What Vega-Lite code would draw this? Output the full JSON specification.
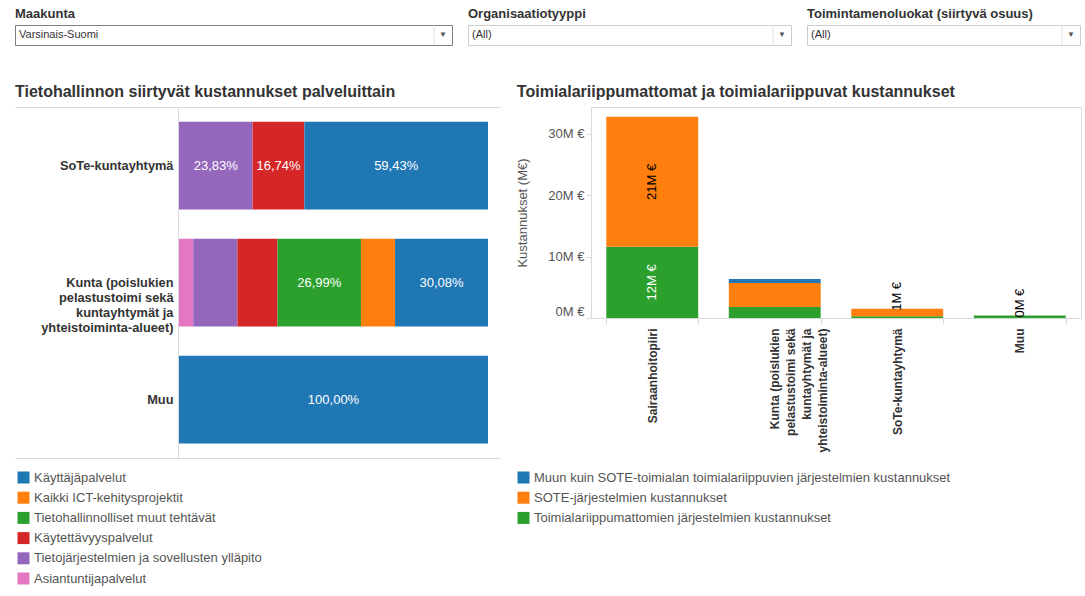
{
  "$schema": "https://vega.github.io/schema/vega-lite/v6.json",
  "background": "white",
  "padding": {"left": 14, "top": 7, "right": 5, "bottom": 0},
  "config": {
    "font": "Liberation Sans",
    "locale": {"number": {"decimal": ",", "thousands": "\u00a0", "grouping": [3], "currency": ["", "M\u00a0€"]}},
    "view": {"stroke": null},
    "title": {"font": "Liberation Sans", "fontWeight": "bold", "color": "#333333", "anchor": "start", "frame": "bounds"},
    "axis": {"labelFont": "Liberation Sans", "titleFont": "Liberation Sans"},
    "legend": {"labelFont": "Liberation Sans", "labelFontSize": 13, "labelColor": "#555555", "symbolType": "square", "symbolSize": 144, "symbolStrokeWidth": 0, "rowPadding": 6.2, "labelOffset": 4, "labelLimit": 600}
  },
  "resolve": {"scale": {"x": "independent", "y": "independent", "color": "independent"}, "legend": {"color": "independent"}},
  "spacing": 37,
  "vconcat": [
    {
      "spacing": 14,
      "resolve": {"scale": {"x": "independent", "y": "independent"}},
      "hconcat": [
        {
          "width": 437, "height": 20,
          "title": {"text": "Maakunta", "fontSize": 13, "offset": 4},
          "view": {"stroke": "#7f7f7f"},
          "data": {"values": [{"selected": "Varsinais-Suomi"}]},
          "layer": [
            {"mark": {"type": "text", "align": "left", "dx": 4, "fontSize": 11, "color": "#333333"},
             "encoding": {"x": {"datum": 0, "type": "quantitative", "scale": {"domain": [0, 1]}, "axis": null}, "text": {"field": "selected"}}},
            {"mark": {"type": "text", "align": "center", "dx": -9, "fontSize": 8, "color": "#555555", "text": "▼"},
             "encoding": {"x": {"datum": 1, "type": "quantitative"}}},
            {"mark": {"type": "rule", "color": "#e0e0e0", "xOffset": -18},
             "encoding": {"x": {"datum": 1, "type": "quantitative"}}}
          ]
        },
        {
          "width": 323, "height": 20,
          "title": {"text": "Organisaatiotyyppi", "fontSize": 13, "offset": 4},
          "view": {"stroke": "#cccccc"},
          "data": {"values": [{"selected": "(All)"}]},
          "layer": [
            {"mark": {"type": "text", "align": "left", "dx": 4, "fontSize": 11, "color": "#333333"},
             "encoding": {"x": {"datum": 0, "type": "quantitative", "scale": {"domain": [0, 1]}, "axis": null}, "text": {"field": "selected"}}},
            {"mark": {"type": "text", "align": "center", "dx": -9, "fontSize": 8, "color": "#555555", "text": "▼"},
             "encoding": {"x": {"datum": 1, "type": "quantitative"}}},
            {"mark": {"type": "rule", "color": "#e0e0e0", "xOffset": -18},
             "encoding": {"x": {"datum": 1, "type": "quantitative"}}}
          ]
        },
        {
          "width": 273, "height": 20,
          "title": {"text": "Toimintamenoluokat (siirtyvä osuus)", "fontSize": 13, "offset": 4},
          "view": {"stroke": "#cccccc"},
          "data": {"values": [{"selected": "(All)"}]},
          "layer": [
            {"mark": {"type": "text", "align": "left", "dx": 4, "fontSize": 11, "color": "#333333"},
             "encoding": {"x": {"datum": 0, "type": "quantitative", "scale": {"domain": [0, 1]}, "axis": null}, "text": {"field": "selected"}}},
            {"mark": {"type": "text", "align": "center", "dx": -9, "fontSize": 8, "color": "#555555", "text": "▼"},
             "encoding": {"x": {"datum": 1, "type": "quantitative"}}},
            {"mark": {"type": "rule", "color": "#e0e0e0", "xOffset": -18},
             "encoding": {"x": {"datum": 1, "type": "quantitative"}}}
          ]
        }
      ]
    },
    {
      "spacing": 16,
      "resolve": {"scale": {"x": "independent", "y": "independent", "color": "independent"}, "legend": {"color": "independent"}},
      "hconcat": [
        {
          "width": 485, "height": 351,
          "title": {"text": "Tietohallinnon siirtyvät kustannukset palveluittain", "fontSize": 16, "offset": 7},
          "data": {"values": [
            {"org": "SoTe-kuntayhtymä", "service": "Tietojärjestelmien ja sovellusten ylläpito", "rank": 2, "share": 0.2383},
            {"org": "SoTe-kuntayhtymä", "service": "Käytettävyyspalvelut", "rank": 3, "share": 0.1674},
            {"org": "SoTe-kuntayhtymä", "service": "Käyttäjäpalvelut", "rank": 6, "share": 0.5943},
            {"org": "Kunta (poislukien pelastustoimi sekä kuntayhtymät ja yhteistoiminta-alueet)", "service": "Asiantuntijapalvelut", "rank": 1, "share": 0.046},
            {"org": "Kunta (poislukien pelastustoimi sekä kuntayhtymät ja yhteistoiminta-alueet)", "service": "Tietojärjestelmien ja sovellusten ylläpito", "rank": 2, "share": 0.143},
            {"org": "Kunta (poislukien pelastustoimi sekä kuntayhtymät ja yhteistoiminta-alueet)", "service": "Käytettävyyspalvelut", "rank": 3, "share": 0.13},
            {"org": "Kunta (poislukien pelastustoimi sekä kuntayhtymät ja yhteistoiminta-alueet)", "service": "Tietohallinnolliset muut tehtävät", "rank": 4, "share": 0.2699},
            {"org": "Kunta (poislukien pelastustoimi sekä kuntayhtymät ja yhteistoiminta-alueet)", "service": "Kaikki ICT-kehitysprojektit", "rank": 5, "share": 0.1103},
            {"org": "Kunta (poislukien pelastustoimi sekä kuntayhtymät ja yhteistoiminta-alueet)", "service": "Käyttäjäpalvelut", "rank": 6, "share": 0.3008},
            {"org": "Muu", "service": "Käyttäjäpalvelut", "rank": 6, "share": 1.0}
          ]},
          "encoding": {
            "y": {"field": "org", "type": "nominal",
                  "sort": ["SoTe-kuntayhtymä", "Kunta (poislukien pelastustoimi sekä kuntayhtymät ja yhteistoiminta-alueet)", "Muu"],
                  "scale": {"paddingInner": 0.25, "paddingOuter": 0.125},
                  "axis": {"title": null, "offset": -163, "domainColor": "#d9d9d9", "ticks": false,
                           "labelFontWeight": "bold", "labelFontSize": 12.8, "labelColor": "#333333", "labelPadding": 5,
                           "labelLineHeight": 15, "labelLimit": 250,
                           "labelExpr": "indexof(datum.label, 'Kunta') == 0 ? ['Kunta (poislukien', 'pelastustoimi sekä', 'kuntayhtymät ja', 'yhteistoiminta-alueet)'] : datum.label"}},
            "order": {"field": "rank", "type": "quantitative"}
          },
          "layer": [
            {"mark": "bar",
             "encoding": {
               "x": {"field": "share", "type": "quantitative", "stack": "zero",
                     "scale": {"domain": [-0.5307, 1.0388], "nice": false, "zero": false},
                     "axis": {"orient": "bottom", "labels": false, "ticks": false, "grid": false, "title": null, "domainColor": "#d9d9d9"}},
               "color": {"field": "service", "type": "nominal",
                         "scale": {"domain": ["Käyttäjäpalvelut", "Kaikki ICT-kehitysprojektit", "Tietohallinnolliset muut tehtävät", "Käytettävyyspalvelut", "Tietojärjestelmien ja sovellusten ylläpito", "Asiantuntijapalvelut"],
                                   "range": ["#1f77b4", "#ff7f0e", "#2ca02c", "#d62728", "#9467bd", "#e377c2"]},
                         "legend": {"orient": "none", "legendX": 2, "legendY": 364, "title": null, "direction": "vertical"}}
             }},
            {"mark": {"type": "text", "color": "white", "fontSize": 13},
             "encoding": {
               "x": {"field": "share", "type": "quantitative", "stack": "zero", "bandPosition": 0.5,
                     "axis": {"orient": "top", "labels": false, "ticks": false, "grid": false, "title": null, "domainColor": "#d9d9d9"}},
               "text": {"condition": {"test": "datum.share > 0.15", "field": "share", "type": "quantitative", "format": ".2%"}, "value": ""}
             }}
          ],
          "resolve": {"axis": {"x": "independent"}}
        },
        {
          "width": 490, "height": 211,
          "title": {"text": "Toimialariippumattomat ja toimialariippuvat kustannukset", "fontSize": 16, "offset": 7},
          "view": {"stroke": "#d9d9d9"},
          "data": {"values": [
            {"org": "Sairaanhoitopiiri", "series": "Toimialariippumattomien järjestelmien kustannukset", "value": 11.6},
            {"org": "Sairaanhoitopiiri", "series": "SOTE-järjestelmien kustannukset", "value": 21.2},
            {"org": "Kunta (poislukien pelastustoimi sekä kuntayhtymät ja yhteistoiminta-alueet)", "series": "Toimialariippumattomien järjestelmien kustannukset", "value": 1.8},
            {"org": "Kunta (poislukien pelastustoimi sekä kuntayhtymät ja yhteistoiminta-alueet)", "series": "SOTE-järjestelmien kustannukset", "value": 3.9},
            {"org": "Kunta (poislukien pelastustoimi sekä kuntayhtymät ja yhteistoiminta-alueet)", "series": "Muun kuin SOTE-toimialan toimialariippuvien järjestelmien kustannukset", "value": 0.65},
            {"org": "SoTe-kuntayhtymä", "series": "Toimialariippumattomien järjestelmien kustannukset", "value": 0.3},
            {"org": "SoTe-kuntayhtymä", "series": "SOTE-järjestelmien kustannukset", "value": 1.2},
            {"org": "Muu", "series": "Toimialariippumattomien järjestelmien kustannukset", "value": 0.4}
          ]},
          "encoding": {
            "x": {"field": "org", "type": "nominal",
                  "sort": ["Sairaanhoitopiiri", "Kunta (poislukien pelastustoimi sekä kuntayhtymät ja yhteistoiminta-alueet)", "SoTe-kuntayhtymä", "Muu"],
                  "scale": {"paddingInner": 0.25, "paddingOuter": 0.125},
                  "axis": {"title": null, "labelAngle": 270, "labelFontWeight": "bold", "labelFontSize": 12, "labelColor": "#333333",
                           "tickBand": "extent", "tickColor": "#d9d9d9", "tickSize": 6, "domainColor": "#d9d9d9", "labelPadding": 4,
                           "labelLineHeight": 16, "labelLimit": 250,
                           "labelExpr": "indexof(datum.label, 'Kunta') == 0 ? ['Kunta (poislukien', 'pelastustoimi sekä', 'kuntayhtymät ja', 'yhteistoiminta-alueet)'] : datum.label"}},
            "order": {"field": "series", "type": "nominal", "sort": "descending"}
          },
          "layer": [
            {"mark": "bar",
             "encoding": {
               "y": {"field": "value", "type": "quantitative", "stack": "zero",
                     "scale": {"domain": [0, 34.4], "nice": false},
                     "axis": {"title": "Kustannukset (M€)", "values": [0, 10, 20, 30], "format": "$.0f", "grid": false,
                              "labelFontSize": 13, "labelColor": "#555555", "labelPadding": 2, "labelFlush": true,
                              "titleFontSize": 13, "titleFontWeight": "normal", "titleColor": "#555555", "titlePadding": 18,
                              "tickColor": "#d9d9d9", "tickSize": 5, "domainColor": "#d9d9d9"}},
               "color": {"field": "series", "type": "nominal",
                         "scale": {"domain": ["Muun kuin SOTE-toimialan toimialariippuvien järjestelmien kustannukset", "SOTE-järjestelmien kustannukset", "Toimialariippumattomien järjestelmien kustannukset"],
                                   "range": ["#1f77b4", "#ff7f0e", "#2ca02c"]},
                         "legend": {"orient": "none", "legendX": -74, "legendY": 364, "title": null, "direction": "vertical"}}
             }},
            {"mark": {"type": "text", "angle": 270, "fontSize": 13},
             "encoding": {
               "y": {"field": "value", "type": "quantitative", "stack": "zero", "bandPosition": 0.5,
                     "axis": {"title": "Kustannukset (M€)", "values": [0, 10, 20, 30], "format": "$.0f", "grid": false,
                              "labelFontSize": 13, "labelColor": "#555555", "labelPadding": 2, "labelFlush": true,
                              "titleFontSize": 13, "titleFontWeight": "normal", "titleColor": "#555555", "titlePadding": 18,
                              "tickColor": "#d9d9d9", "tickSize": 5, "domainColor": "#d9d9d9"}},
               "text": {"condition": {"test": "datum.value >= 5", "field": "value", "type": "quantitative", "format": "$.0f"}, "value": ""},
               "color": {"condition": {"test": "datum.series == 'SOTE-järjestelmien kustannukset'", "value": "black"}, "value": "white"}
             }},
            {"mark": {"type": "text", "angle": 270, "align": "left", "fontSize": 13, "color": "black", "dx": -2},
             "encoding": {
               "y": {"field": "value", "type": "quantitative", "stack": "zero",
                     "axis": {"title": "Kustannukset (M€)", "values": [0, 10, 20, 30], "format": "$.0f", "grid": false,
                              "labelFontSize": 13, "labelColor": "#555555", "labelPadding": 2, "labelFlush": true,
                              "titleFontSize": 13, "titleFontWeight": "normal", "titleColor": "#555555", "titlePadding": 18,
                              "tickColor": "#d9d9d9", "tickSize": 5, "domainColor": "#d9d9d9"}},
               "text": {"condition": {"test": "(datum.org == 'SoTe-kuntayhtymä' && datum.value > 1) || datum.org == 'Muu'", "field": "value", "type": "quantitative", "format": "$.0f"}, "value": ""}
             }}
          ]
        }
      ]
    }
  ]
}
